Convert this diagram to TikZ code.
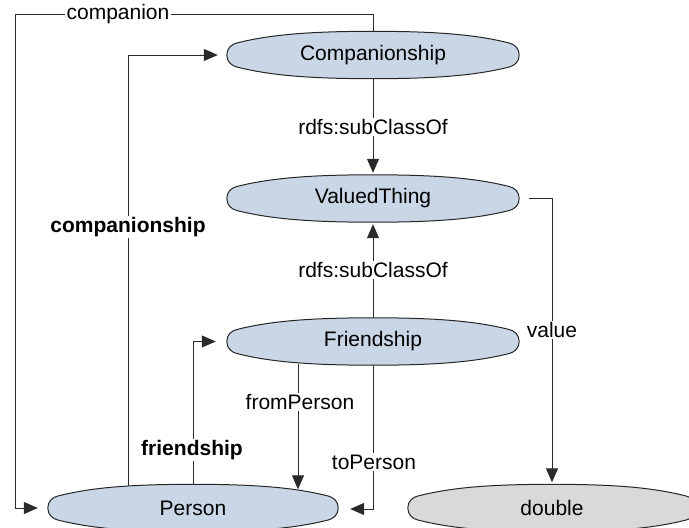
\documentclass[tikz,border=0pt]{standalone}
\usepackage{fontspec}
\setmainfont{Liberation Sans}
\usetikzlibrary{arrows.meta,backgrounds}

\definecolor{classfill}{HTML}{C9D6E6}
\definecolor{dtfill}{HTML}{D9D9D9}
\definecolor{edgecol}{HTML}{2A2A2A}

\tikzset{
  cls/.style={minimum width=292pt, minimum height=47pt, inner sep=0pt,
    font=\fontsize{21}{25}\selectfont},
  lbl/.style={fill=white, inner sep=1.5pt, font=\fontsize{21}{25}\selectfont},
  blbl/.style={lbl, font=\fontsize{21}{25}\selectfont\bfseries},
  conn/.style={draw=edgecol, line width=1pt},
  arr/.style={conn, -{Triangle[length=14pt,width=12pt]}},
  lensline/.style={draw=black!85, line width=1pt}
}

% tapered outline (small rounded ends, gently curved long sides) around a class node
\newcommand\lensshape[2]{%
  \path[lensline, fill=#2]
    (#1.west) .. controls ([yshift=7pt]#1.west) and ([xshift=5pt,yshift=10.75pt]#1.west)
      .. ([xshift=10pt,yshift=12pt]#1.west)
      .. controls ([xshift=40pt,yshift=19.5pt]#1.west) and ([xshift=-70pt]#1.north) .. (#1.north)
      .. controls ([xshift=70pt]#1.north) and ([xshift=-40pt,yshift=19.5pt]#1.east)
      .. ([xshift=-10pt,yshift=12pt]#1.east)
      .. controls ([xshift=-5pt,yshift=10.75pt]#1.east) and ([yshift=7pt]#1.east) .. (#1.east)
      .. controls ([yshift=-7pt]#1.east) and ([xshift=-5pt,yshift=-10.75pt]#1.east)
      .. ([xshift=-10pt,yshift=-12pt]#1.east)
      .. controls ([xshift=-40pt,yshift=-19.5pt]#1.east) and ([xshift=70pt]#1.south) .. (#1.south)
      .. controls ([xshift=-70pt]#1.south) and ([xshift=40pt,yshift=-19.5pt]#1.west)
      .. ([xshift=10pt,yshift=-12pt]#1.west)
      .. controls ([xshift=5pt,yshift=-10.75pt]#1.west) and ([yshift=-7pt]#1.west) .. cycle;}

\begin{document}
\begin{tikzpicture}[x=1pt,y=-1pt]
\useasboundingbox (0,0) rectangle (689,528);

% classes
\node[cls] (comp) at (373,55) {Companionship};
\node[cls] (vt) at (373,198.5) {ValuedThing};
\node[cls] (fr) at (373,341.5) {Friendship};
\node[cls, minimum width=290pt] (per) at (193,508) {Person};
\node[cls, minimum width=288pt] (dbl) at (552,508) {double};

\begin{scope}[on background layer]
  \lensshape{comp}{classfill}
  \lensshape{vt}{classfill}
  \lensshape{fr}{classfill}
  \lensshape{per}{classfill}
  \lensshape{dbl}{dtfill}
\end{scope}

% companion: Companionship -> Person, round the outside
\coordinate (topleft) at (15,14);
\draw[arr] (comp.north) |- (topleft) |- ([xshift=-10pt]per.west);
\node[lbl] (lcompanion) at (118,14) {companion};

% companionship: Person -> Companionship
\draw[arr] ([xshift=-65pt,yshift=-2pt]per.north) |- ([xshift=-9pt]comp.west);
\node[blbl] (lcompship) at (128,227) {companionship};

% friendship: Person -> Friendship
\draw[arr] (per.north) |- ([xshift=-11pt]fr.west);
\node[blbl] (lfriendship) at (192,450) {friendship};

% subclass links
\draw[arr] (comp.south) -- ([yshift=2pt]vt.north);
\node[lbl] (lsub1) at (373,127) {rdfs:subClassOf};
\draw[arr] (fr.north) -- ([yshift=-2pt]vt.south);
\node[lbl] (lsub2) at (373,270) {rdfs:subClassOf};

% fromPerson / toPerson
\draw[arr] ([xshift=-75pt,yshift=1pt]fr.south) -- ([xshift=105pt,yshift=-5pt]per.north);
\node[lbl] (lfrom) at (300,402) {fromPerson};
\draw[arr] (fr.south) |- ([xshift=12pt,yshift=-1pt]per.east);
\node[lbl] (lto) at (374,462) {toPerson};

% value: ValuedThing -> double
\draw[arr] ([xshift=10pt]vt.east) -| ([yshift=2pt]dbl.north);
\node[lbl] (lvalue) at (552,330) {value};
\end{tikzpicture}
\end{document}
